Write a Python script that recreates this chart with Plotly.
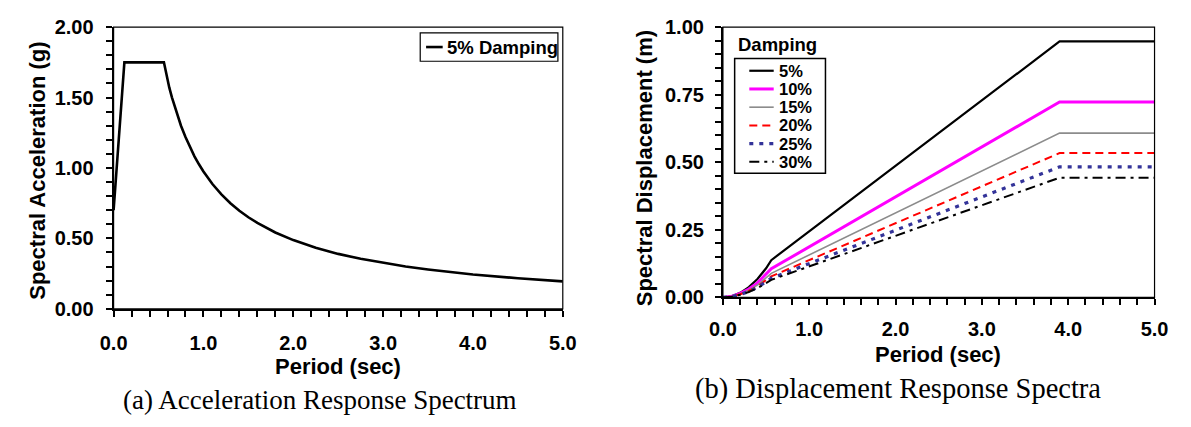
import plotly.graph_objects as go

# ---------------- data ----------------
# (a) acceleration response spectrum, 5% damping
period_a = [0.0, 0.12, 0.56, 0.58, 0.60, 0.62, 0.65, 0.68, 0.70, 0.75, 0.80, 0.85, 0.90,
            0.95, 1.0, 1.1, 1.2, 1.3, 1.4, 1.5, 1.6, 1.8, 2.0, 2.25, 2.5, 2.75, 3.0,
            3.25, 3.5, 3.75, 4.0, 4.5, 5.0]
sa_5 = [0.70, 1.75, 1.75, 1.68, 1.625, 1.57, 1.50, 1.435, 1.39, 1.30, 1.22, 1.145, 1.083,
        1.026, 0.975, 0.886, 0.812, 0.75, 0.696, 0.65, 0.61, 0.542, 0.488, 0.433, 0.39,
        0.355, 0.325, 0.30, 0.279, 0.26, 0.244, 0.217, 0.195]
legend_a = "5% Damping"

# (b) displacement response spectra
period_b = [0.0, 0.1, 0.2, 0.3, 0.4, 0.5, 0.56, 3.9, 5.0]
damping_labels = ["5%", "10%", "15%", "20%", "25%", "30%"]
sd_5 = [0.0, 0.004, 0.017, 0.038, 0.068, 0.108, 0.138, 0.947, 0.947]
sd_10 = [0.0, 0.0035, 0.015, 0.031, 0.054, 0.085, 0.106, 0.723, 0.723]
sd_15 = [0.0, 0.003, 0.013, 0.027, 0.046, 0.072, 0.089, 0.608, 0.608]
sd_20 = [0.0, 0.003, 0.012, 0.024, 0.041, 0.063, 0.078, 0.534, 0.534]
sd_25 = [0.0, 0.0028, 0.011, 0.022, 0.037, 0.057, 0.071, 0.483, 0.483]
sd_30 = [0.0, 0.0026, 0.010, 0.020, 0.034, 0.052, 0.065, 0.443, 0.443]
sd_series = [sd_5, sd_10, sd_15, sd_20, sd_25, sd_30]

x_ticks = [0, 1, 2, 3, 4, 5]
ya_ticks = [0, 0.5, 1.0, 1.5, 2.0]
yb_ticks = [0, 0.25, 0.5, 0.75, 1.0]

# ---------------- styles ----------------
W, H = 1191, 427
SANS = "Liberation Sans, Arial, sans-serif"
SERIF = "Liberation Serif, Times New Roman, serif"
styles = [
    dict(color="black", width=2.2, dash="solid"),
    dict(color="#ff00ff", width=3, dash="solid"),
    dict(color="#8c8c8c", width=1.6, dash="solid"),
    dict(color="#ff0000", width=2, dash="8px,5px"),
    dict(color="#333399", width=3.2, dash="4px,6px"),
    dict(color="black", width=2, dash="10px,5px,3px,5px"),
]


def px(x):
    return x / W


def py(y):
    return 1 - y / H


fig = go.Figure()

fig.add_trace(go.Scatter(x=period_a, y=sa_5, mode="lines", name=legend_a,
                         line=dict(color="black", width=2.6),
                         xaxis="x", yaxis="y", showlegend=False))

for lab, sd, st in zip(damping_labels, sd_series, styles):
    fig.add_trace(go.Scatter(x=period_b, y=sd, mode="lines", name=lab, line=st,
                             xaxis="x2", yaxis="y2", showlegend=False))

tickfont = dict(family=SANS, size=20, color="black", weight="bold")
common = dict(showline=True, linewidth=2, linecolor="black", ticks="outside",
              ticklen=6, tickwidth=1.5, tickcolor="black", showgrid=False,
              zeroline=False, tickfont=tickfont)
minor_x = dict(dtick=0.2, ticks="outside", ticklen=6, tickwidth=1.5, tickcolor="black")

fig.update_layout(
    width=W, height=H, margin=dict(l=0, r=0, t=0, b=0),
    paper_bgcolor="white", plot_bgcolor="white", showlegend=False,
    xaxis=dict(domain=[px(102), px(562)], range=[0, 5], tickvals=x_ticks,
               tickformat=".1f", anchor="y", minor=minor_x, ticklabelstandoff=9, **common),
    yaxis=dict(domain=[py(314), py(17)], range=[0, 2], tickvals=ya_ticks,
               tickformat=".2f", anchor="x", ticklabelstandoff=8,
               minor=dict(dtick=0.1, ticks="outside", ticklen=6, tickwidth=1.5, tickcolor="black"),
               **common),
    xaxis2=dict(domain=[px(726), px(1168)], range=[0, 5], tickvals=x_ticks,
                tickformat=".1f", anchor="y2", minor=minor_x, ticklabelstandoff=7, **common),
    yaxis2=dict(domain=[py(302), py(17)], range=[0, 1], tickvals=yb_ticks,
                tickformat=".2f", anchor="x2", ticklabelstandoff=7,
                minor=dict(dtick=0.05, ticks="outside", ticklen=6, tickwidth=1.5, tickcolor="black"),
                **common),
)

shapes = [
    dict(type="rect", xref="x domain", yref="y domain", x0=0, x1=1, y0=0, y1=1,
         line=dict(color="black", width=1.2)),
    dict(type="rect", xref="x2 domain", yref="y2 domain", x0=0, x1=1, y0=0, y1=1,
         line=dict(color="black", width=1.2)),
    # legend (a)
    dict(type="rect", xref="paper", yref="paper", x0=px(416), x1=px(557), y0=py(53), y1=py(23),
         line=dict(color="black", width=1.2), fillcolor="white"),
    dict(type="line", xref="paper", yref="paper", x0=px(422), x1=px(439), y0=py(38), y1=py(38),
         line=dict(color="black", width=2.6)),
    # legend (b)
    dict(type="rect", xref="paper", yref="paper", x0=px(738), x1=px(831), y0=py(171), y1=py(50),
         line=dict(color="black", width=1.5), fillcolor="white"),
]
annotations = []
bold = dict(family=SANS, size=18.5, color="black", weight="bold")
entry_font = dict(family=SANS, size=16.5, color="black", weight="bold")
annotations.append(dict(xref="paper", yref="paper", x=px(441), y=py(38), text=legend_a,
                        showarrow=False, xanchor="left", yanchor="middle", font=bold))
annotations.append(dict(xref="paper", yref="paper", x=px(782), y=py(35), text="Damping",
                        showarrow=False, xanchor="center", yanchor="middle", font=bold))
for i, (lab, st) in enumerate(zip(damping_labels, styles)):
    yy = 63 + i * 19.2
    shapes.append(dict(type="line", xref="paper", yref="paper", x0=px(753), x1=px(778),
                       y0=py(yy), y1=py(yy), line=st))
    annotations.append(dict(xref="paper", yref="paper", x=px(781), y=py(yy), text=lab,
                            showarrow=False, xanchor="left", yanchor="middle", font=entry_font))

titlefont = dict(family=SANS, size=22, color="black", weight="bold")
annotations += [
    dict(xref="paper", yref="paper", x=px(332), y=py(375), text="Period (sec)",
         showarrow=False, xanchor="center", yanchor="middle", font=titlefont),
    dict(xref="paper", yref="paper", x=px(946), y=py(362), text="Period (sec)",
         showarrow=False, xanchor="center", yanchor="middle", font=titlefont),
    dict(xref="paper", yref="paper", x=px(24), y=py(168), text="Spectral Acceleration (g)",
         showarrow=False, xanchor="center", yanchor="middle", textangle=-90, font=titlefont),
    dict(xref="paper", yref="paper", x=px(646), y=py(166), text="Spectral Displacement (m)",
         showarrow=False, xanchor="center", yanchor="middle", textangle=-90, font=titlefont),
    dict(xref="paper", yref="paper", x=px(313), y=py(410), text="(a) Acceleration Response Spectrum",
         showarrow=False, xanchor="center", yanchor="middle",
         font=dict(family=SERIF, size=27, color="black")),
    dict(xref="paper", yref="paper", x=px(905), y=py(399), text="(b) Displacement Response Spectra",
         showarrow=False, xanchor="center", yanchor="middle",
         font=dict(family=SERIF, size=28.5, color="black")),
]
fig.update_layout(shapes=shapes, annotations=annotations)

fig.write_html("out.html")
